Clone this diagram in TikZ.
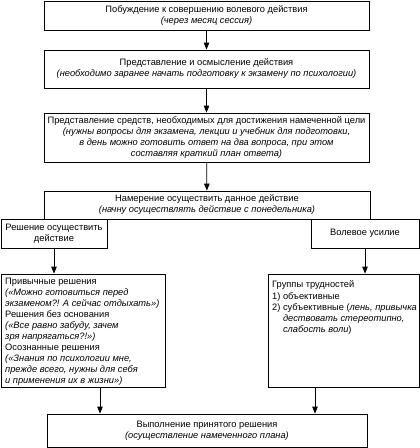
\documentclass[tikz,border=0pt]{standalone}
\usepackage{fontspec}
\setmainfont{Liberation Sans}
\usetikzlibrary{arrows.meta}
\begin{document}
\begin{tikzpicture}[x=1pt,y=-1pt,
  txt/.style={inner sep=0pt,font=\fontsize{9.3}{11}\selectfont},
  box/.style={draw,line width=0.8pt,inner sep=0pt,font=\fontsize{9.3}{11}\selectfont,align=center},
  arr/.style={-{Triangle[length=7pt,width=5.5pt]},line width=0.8pt}]
\useasboundingbox (0,0) rectangle (420,448);
\node[box,minimum width=325pt,minimum height=29pt] (b1) at (206.5,15.5)
  {Побуждение к совершению волевого действия\\\textit{(через месяц сессия)}};
\node[box,minimum width=325pt,minimum height=38pt] (b2) at (206.5,69)
  {Представление и осмысление действия\\\textit{(необходимо заранее начать подготовку к экзамену по психологии)}};
\node[box,minimum width=325pt,minimum height=49pt] (b3) at (206.5,137.5)
  {Представление средств, необходимых для достижения намеченной цели\\
   \textit{(нужны вопросы для экзамена, лекции и учебник для подготовки,}\\
   \textit{в день можно готовить ответ на два вопроса, при этом}\\
   \textit{составляя краткий план ответа)}};
\node[box,minimum width=326pt,minimum height=28pt] (b4) at (207,205)
  {Намерение осуществить данное действие\\\textit{(начну осуществлять действие с понедельника)}};
\node[box,fill=white,minimum width=106pt,minimum height=29pt] (sl) at (54,233.5)
  {Решение осуществить\\действие};
\node[box,fill=white,minimum width=108pt,minimum height=29pt] (sr) at (365,233.5)
  {Волевое усилие};
\node[box,minimum width=164pt,minimum height=113pt] (bl) at (83,330.5) {};
\node[txt,anchor=north west,align=left] (blt) at (5,278)
  {Привычные решения\\
   \textit{(«Можно готовиться перед}\\
   \textit{экзаменом?! А сейчас отдыхать»)}\\
   Решения без основания\\
   \textit{(«Все равно забуду, зачем}\\
   \textit{зря напрягаться?!»)}\\
   Осознанные решения\\
   \textit{(«Знания по психологии мне,}\\
   \textit{прежде всего, нужны для себя}\\
   \textit{и применения их в жизни»)}};
\node[box,minimum width=151pt,minimum height=113pt] (br) at (343.5,330.5) {};
\node[txt,anchor=north west,align=left] (brt) at (272,280)
  {Группы трудностей\\[1pt]
   1) объективные\\
   2) субъективные (\textit{лень, привычка}\\
   \hphantom{2) }\textit{дествовать стереотипно,}\\
   \hphantom{2) }\textit{слабость воли})};
\node[box,minimum width=320pt,minimum height=33pt] (bot) at (207,430.5)
  {Выполнение принятого решения\\\textit{(осуществление намеченного плана)}};
\draw[arr] (b1) -- (b2);
\draw[arr] (b2) -- (b3);
\draw[arr] (b3) -- (b4);
\draw[arr] (sl.south) -- (sl.south |- bl.north);
\draw[arr] (sr.south) -- (sr.south |- br.north);
\draw[arr] ([xshift=17pt]bl.south) -- ([xshift=17pt]bl.south |- bot.north);
\draw[arr] ([xshift=-28.5pt]br.south) -- ([xshift=-28.5pt]br.south |- bot.north);
\end{tikzpicture}
\end{document}
